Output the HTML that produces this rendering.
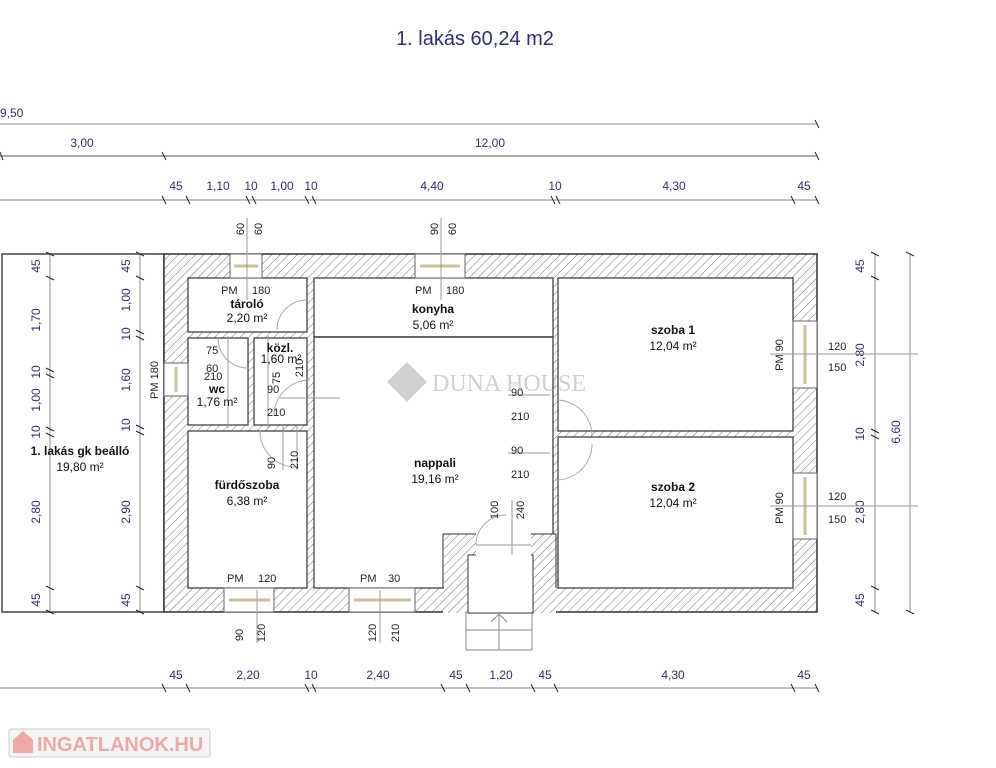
<!DOCTYPE html>
<html><head><meta charset="utf-8"><style>
body{margin:0;background:#fff;}
svg{display:block;font-family:"Liberation Sans",sans-serif;}
.d{fill:#2d2f7a;font-size:12px;}
.k{fill:#222;font-size:11px;}
.rn{fill:#111;font-size:12px;font-weight:bold;}
.ra{fill:#111;font-size:12px;}
</style></head><body>
<svg width="996" height="768" viewBox="0 0 996 768">
<defs>
<pattern id="h" width="6" height="6" patternUnits="userSpaceOnUse" patternTransform="rotate(45)">
<rect width="6" height="6" fill="#fff"/><line x1="0" y1="0" x2="0" y2="6" stroke="#777" stroke-width="1"/>
</pattern>
</defs>
<text x="475" y="45" text-anchor="middle" fill="#2d2f7a" font-size="20">1. lakás 60,24 m2</text>

<!-- carport -->
<rect x="2" y="254" width="162" height="358" fill="none" stroke="#444" stroke-width="1.5"/>

<!-- top dimension lines -->
<g stroke="#888" stroke-width="1">
<line x1="0" y1="124" x2="817" y2="124"/>
<line x1="0" y1="156" x2="817" y2="156" stroke-width="2" stroke="#aaa"/>
<line x1="0" y1="200" x2="817" y2="200"/>
<line x1="0" y1="688" x2="817" y2="688"/>
<line x1="875" y1="254" x2="875" y2="612"/>
<line x1="910" y1="254" x2="910" y2="612"/>
<line x1="50" y1="254" x2="50" y2="612"/>
<line x1="140" y1="254" x2="140" y2="612"/>
</g>
<g stroke="#223" stroke-width="1">
<path d="M815 120l4 8M0 152l3 8M162 152l4 8M815 152l4 8
M162 196l4 8M186 196l4 8M246 196l4 8M252 196l4 8M305 196l4 8M312 196l4 8M551 196l4 8M556 196l4 8M791 196l4 8M815 196l4 8
M162 684l4 8M186 684l4 8M305 684l4 8M312 684l4 8M441 684l4 8M466 684l4 8M531 684l4 8M554 684l4 8M791 684l4 8M815 684l4 8
M871 252l8 4M871 276l8 4M871 429l8 4M871 435l8 4M871 586l8 4M871 610l8 4M906 252l8 4M906 610l8 4
M46 252l8 4M46 276l8 4M46 368l8 4M46 374l8 4M46 427l8 4M46 433l8 4M46 586l8 4M46 610l8 4
M136 252l8 4M136 276l8 4M136 330l8 4M136 336l8 4M136 425l8 4M136 431l8 4M136 586l8 4M136 610l8 4"/>
</g>
<g class="d">
<text x="0" y="117">9,50</text>
<text x="82" y="147" text-anchor="middle">3,00</text>
<text x="490" y="147" text-anchor="middle">12,00</text>
<text x="176" y="190" text-anchor="middle">45</text>
<text x="218" y="190" text-anchor="middle">1,10</text>
<text x="251" y="190" text-anchor="middle">10</text>
<text x="282" y="190" text-anchor="middle">1,00</text>
<text x="311" y="190" text-anchor="middle">10</text>
<text x="432" y="190" text-anchor="middle">4,40</text>
<text x="555" y="190" text-anchor="middle">10</text>
<text x="674" y="190" text-anchor="middle">4,30</text>
<text x="804" y="190" text-anchor="middle">45</text>
<text x="176" y="679" text-anchor="middle">45</text>
<text x="248" y="679" text-anchor="middle">2,20</text>
<text x="311" y="679" text-anchor="middle">10</text>
<text x="378" y="679" text-anchor="middle">2,40</text>
<text x="456" y="679" text-anchor="middle">45</text>
<text x="501" y="679" text-anchor="middle">1,20</text>
<text x="545" y="679" text-anchor="middle">45</text>
<text x="673" y="679" text-anchor="middle">4,30</text>
<text x="804" y="679" text-anchor="middle">45</text>
</g>
<g class="d" text-anchor="middle">
<text transform="translate(864,266) rotate(-90)">45</text>
<text transform="translate(864,355) rotate(-90)">2,80</text>
<text transform="translate(864,434) rotate(-90)">10</text>
<text transform="translate(864,512) rotate(-90)">2,80</text>
<text transform="translate(864,600) rotate(-90)">45</text>
<text transform="translate(900,432) rotate(-90)">6,60</text>
<text transform="translate(40,266) rotate(-90)">45</text>
<text transform="translate(40,320) rotate(-90)">1,70</text>
<text transform="translate(40,372) rotate(-90)">10</text>
<text transform="translate(40,400) rotate(-90)">1,00</text>
<text transform="translate(40,432) rotate(-90)">10</text>
<text transform="translate(40,512) rotate(-90)">2,80</text>
<text transform="translate(40,600) rotate(-90)">45</text>
<text transform="translate(130,266) rotate(-90)">45</text>
<text transform="translate(130,300) rotate(-90)">1,00</text>
<text transform="translate(130,334) rotate(-90)">10</text>
<text transform="translate(130,380) rotate(-90)">1,60</text>
<text transform="translate(130,425) rotate(-90)">10</text>
<text transform="translate(130,512) rotate(-90)">2,90</text>
<text transform="translate(130,600) rotate(-90)">45</text>
<text transform="translate(424,545) rotate(-90)">45</text>
<text transform="translate(424,573) rotate(-90)">55</text>
<text transform="translate(424,600) rotate(-90)">45</text>
</g>

<text x="80" y="455" text-anchor="middle" class="rn">1. lakás gk beálló</text>
<text x="80" y="471" text-anchor="middle" class="ra">19,80 m²</text>

<!-- walls -->
<rect x="164" y="254" width="653" height="358" fill="url(#h)" stroke="#333" stroke-width="1.5"/>
<rect x="443" y="533" width="113" height="80" fill="url(#h)" stroke="none"/>
<g fill="#fff" stroke="#333" stroke-width="1.2">
<rect x="188" y="278" width="119" height="54"/>
<rect x="188" y="338" width="60" height="87"/>
<rect x="254" y="338" width="53" height="87"/>
<rect x="188" y="431" width="119" height="157"/>
<rect x="314" y="278" width="239" height="310"/>
<rect x="558" y="278" width="235" height="153"/>
<rect x="558" y="437" width="235" height="151"/>
</g>
<path d="M314 337H553" stroke="#333" stroke-width="1.5"/>
<rect x="444" y="534" width="110" height="55" fill="url(#h)" stroke="none"/>
<rect x="468" y="555" width="65" height="58" fill="#fff" stroke="#333"/>
<path d="M443 588V534H476M531 534H556V588" fill="none" stroke="#333"/>
<rect x="476" y="534" width="55" height="22" fill="#fff" stroke="none"/>
<line x1="476" y1="545" x2="531" y2="545" stroke="#999"/>
<path d="M466 612V650H532V612M466 630H532M499 612V650M491 622l8-8 8 8" fill="none" stroke="#888"/>
<g fill="#fff" stroke="#666">
<rect x="230" y="254" width="32" height="24"/>
<rect x="415" y="254" width="50" height="24"/>
<rect x="224" y="588" width="50" height="24"/>
<rect x="349" y="588" width="66" height="24"/>
<rect x="164" y="363" width="24" height="33"/>
<rect x="793" y="321" width="24" height="67"/>
<rect x="793" y="473" width="24" height="66"/>
</g>
<g stroke="#cbbf9c" stroke-width="3">
<line x1="234" y1="266" x2="258" y2="266"/><line x1="420" y1="266" x2="460" y2="266"/>
<line x1="229" y1="600" x2="270" y2="600"/><line x1="354" y1="600" x2="411" y2="600"/>
<line x1="176" y1="367" x2="176" y2="392"/><line x1="805" y1="325" x2="805" y2="384"/><line x1="805" y1="477" x2="805" y2="535"/>
</g>
<g fill="none" stroke="#aaa">
<path d="M307 300A30 30 0 0 0 277 330"/>
<path d="M248 368A30 30 0 0 1 218 338"/>
<path d="M310 380A36 36 0 0 0 274 416"/>
<path d="M260 431A36 36 0 0 0 296 467"/>
<path d="M556 400A36 36 0 0 1 592 436"/>
<path d="M556 480A36 36 0 0 0 592 444"/>
<path d="M476 545A30 30 0 0 1 506 515"/>
</g>
<g stroke="#999">
<line x1="228" y1="336" x2="228" y2="428"/><line x1="268" y1="336" x2="268" y2="428"/>
<line x1="283" y1="425" x2="283" y2="470"/><line x1="297" y1="425" x2="297" y2="470"/>
<line x1="247" y1="218" x2="247" y2="300"/><line x1="441" y1="218" x2="441" y2="300"/>
<line x1="508" y1="395" x2="550" y2="395"/><line x1="508" y1="453" x2="550" y2="453"/>
<line x1="770" y1="354" x2="918" y2="354"/><line x1="770" y1="506" x2="918" y2="506"/>
<line x1="257" y1="590" x2="257" y2="643"/><line x1="380" y1="590" x2="380" y2="643"/>
<line x1="280" y1="398" x2="340" y2="398"/>
<line x1="512" y1="500" x2="512" y2="555"/>
</g>
<g class="k">
<text x="221" y="294">PM</text><text x="252" y="294">180</text>
<text x="415" y="294">PM</text><text x="446" y="294">180</text>
<text x="227" y="582">PM</text><text x="258" y="582">120</text>
<text x="360" y="582">PM</text><text x="388" y="582">30</text>
<text x="206" y="354">75</text><text x="206" y="372">60</text><text x="204" y="380">210</text>
<text x="267" y="393">90</text><text x="267" y="416">210</text>
<text x="511" y="396">90</text><text x="511" y="420">210</text>
<text x="511" y="454">90</text><text x="511" y="478">210</text>
<text x="828" y="350">120</text><text x="828" y="371">150</text>
<text x="828" y="500">120</text><text x="828" y="523">150</text>
</g>
<g class="k" text-anchor="middle">
<text transform="translate(244,229) rotate(-90)">60</text><text transform="translate(262,229) rotate(-90)">60</text>
<text transform="translate(438,229) rotate(-90)">90</text><text transform="translate(456,229) rotate(-90)">60</text>
<text transform="translate(243,635) rotate(-90)">90</text><text transform="translate(265,633) rotate(-90)">120</text>
<text transform="translate(376,633) rotate(-90)">120</text><text transform="translate(399,633) rotate(-90)">210</text>
<text transform="translate(158,380) rotate(-90)">PM  180</text>
<text transform="translate(280,378) rotate(-90)">75</text><text transform="translate(303,368) rotate(-90)">210</text>
<text transform="translate(275,463) rotate(-90)">90</text><text transform="translate(298,460) rotate(-90)">210</text>
<text transform="translate(498,510) rotate(-90)">100</text><text transform="translate(524,510) rotate(-90)">240</text>
<text transform="translate(783,355) rotate(-90)">PM  90</text>
<text transform="translate(783,508) rotate(-90)">PM  90</text>
</g>
<g text-anchor="middle">
<text x="247" y="308" class="rn" font-size="10">tároló</text><text x="247" y="322" class="ra">2,20 m²</text>
<text x="280" y="352" class="rn" font-size="10">közl.</text><text x="281" y="363" class="ra" font-size="11">1,60 m²</text>
<text x="217" y="393" class="rn" font-size="10">wc</text><text x="217" y="406" class="ra" font-size="11">1,76 m²</text>
<text x="247" y="489" class="rn">fürdőszoba</text><text x="247" y="505" class="ra">6,38 m²</text>
<text x="433" y="313" class="rn">konyha</text><text x="433" y="329" class="ra">5,06 m²</text>
<text x="435" y="467" class="rn">nappali</text><text x="435" y="483" class="ra">19,16 m²</text>
<text x="673" y="334" class="rn">szoba 1</text><text x="673" y="350" class="ra">12,04 m²</text>
<text x="673" y="491" class="rn">szoba 2</text><text x="673" y="507" class="ra">12,04 m²</text>
</g>
<g opacity="0.45">
<path d="M407 362l20 20-20 20-20-20z" fill="#999"/>
<text x="432" y="391" fill="#999" font-family="Liberation Serif,serif" font-size="24">DUNA HOUSE</text>
</g>
<rect x="9" y="729" width="201" height="28" fill="#f4f4f4" stroke="#ccc" rx="2"/>
<path d="M13 740l10-9 10 9v13h-20z" fill="#f0a8a8"/>
<text x="37" y="751" fill="#f0a8a8" font-size="20" font-weight="bold">INGATLANOK.HU</text>
</svg>
</body></html>
